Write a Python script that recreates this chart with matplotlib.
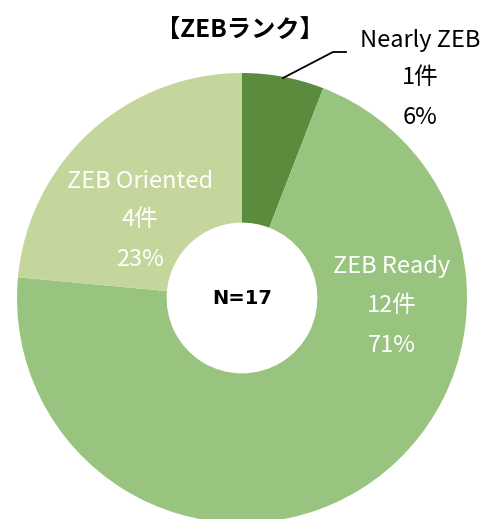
import matplotlib
matplotlib.use("Agg")
import matplotlib.pyplot as plt

plt.rcParams['font.family'] = ['Noto Sans CJK JP', 'DejaVu Sans']

categories = ["Nearly ZEB", "ZEB Ready", "ZEB Oriented"]
counts = [1, 12, 4]
percents = ["6%", "71%", "23%"]
colors = ["#5b8c3e", "#99c47f", "#c4d69b"]
title = "【ZEBランク】"
center_label = "N=17"

W, H = 500, 519
fig = plt.figure(figsize=(W / 100, H / 100), dpi=100)

cx, cy, R = 242, 298, 225
ax = fig.add_axes([(cx - R) / W, (H - cy - R) / H, 2 * R / W, 2 * R / H])
ax.axis('off')

ax.pie(counts, colors=colors, startangle=90, counterclock=False,
       radius=1, wedgeprops=dict(width=1 - 0.335, edgecolor='none'))
ax.set_xlim(-1, 1)
ax.set_ylim(-1, 1)
ax.set_aspect('equal')

def fx(px):
    return px / W

def fy(py):
    return 1 - py / H

fig.text(fx(240), fy(31), title, ha='center', va='center', fontsize=17.5,
         fontweight='bold')
ax.text(0, 0, center_label, ha='center', va='center', fontsize=14,
        fontweight='bold', color='black', family='DejaVu Sans')

# label positions (pixels) per category
label_pos = [(420, [40, 77, 117], 'black'),
             (392, [267, 305, 345], 'white'),
             (140, [181, 219, 259], 'white')]
for cat, n, p, (x, ys, c) in zip(categories, counts, percents, label_pos):
    for txt, y in zip([cat, f"{n}件", p], ys):
        fig.text(fx(x), fy(y), txt, ha='center', va='center', fontsize=17,
                 color=c)

# leader line for Nearly ZEB
fig.add_artist(plt.Line2D([fx(283), fx(333), fx(346)], [fy(78), fy(52), fy(52)],
                          color='black', lw=1.3))

fig.savefig("out.png", dpi=100)
